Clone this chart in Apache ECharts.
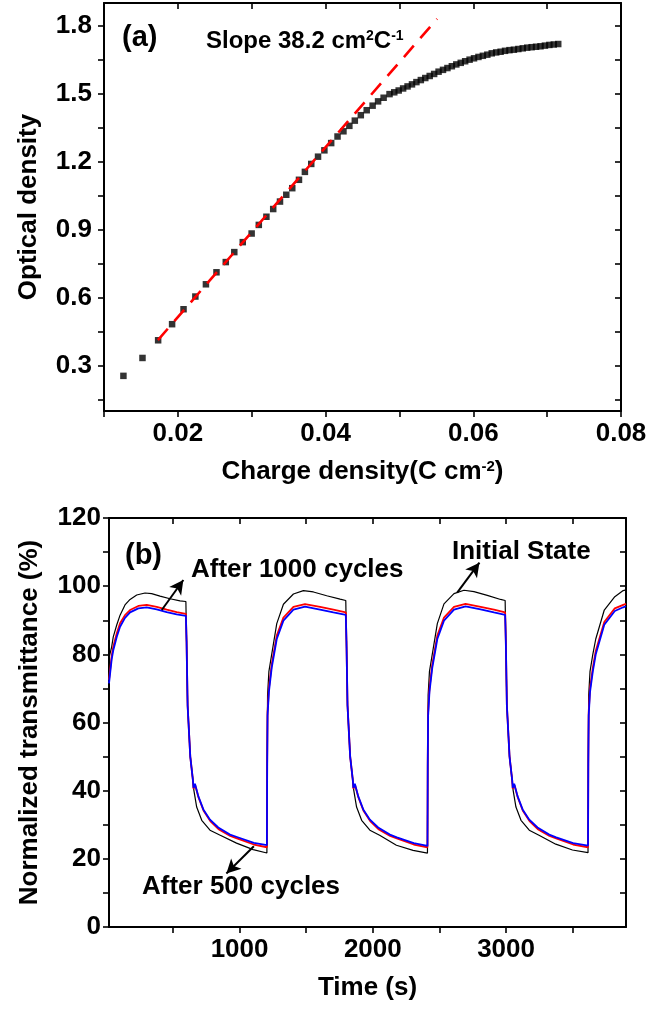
<!DOCTYPE html>
<html><head><meta charset="utf-8">
<script src="https://cdn.jsdelivr.net/npm/echarts@6/dist/echarts.min.js"></script>
<style>html,body{margin:0;padding:0;background:#fff}#c{width:663px;height:1010px}</style>
</head><body><div id="c"></div>
<script>
const FONT = "'Liberation Sans', Arial, Helvetica, sans-serif";

// ---------- panel (a): optical density vs charge density ----------
const chargeDensity = [0.01263,0.01521,0.01733,0.01922,0.02077,0.02237,0.0238,0.02523,0.02649,0.02764,0.02879,0.02999,0.03096,0.03199,0.03291,0.03383,0.03468,0.03549,0.0364,0.0372,0.03806,0.03898,0.03984,0.04076,0.04162,0.04242,0.04322,0.04396,0.04477,0.04557,0.04637,0.04711,0.04786,0.04866,
0.0493,0.0499,0.0505,0.0511,0.0517,0.0523,0.0529,0.0535,0.0541,0.0547,0.0553,0.0559,0.0565,0.0571,0.0577,0.0583,0.0589,0.0595,0.0601,0.0607,0.0613,0.0619,0.0625,0.0631,0.0637,0.0643,0.0649,0.0655,0.0661,0.0667,0.0673,0.0679,0.0685,0.0691,0.0697,0.0703,0.0709,0.0715];
const opticalDensity = [0.255,0.334,0.412,0.483,0.549,0.605,0.659,0.712,0.757,0.801,0.845,0.883,0.921,0.957,0.991,1.024,1.054,1.083,1.12,1.155,1.19,1.222,1.25,1.282,1.311,1.334,1.358,1.381,1.405,1.427,1.447,1.466,1.482,1.498,
1.506,1.514,1.523,1.532,1.541,1.551,1.560,1.569,1.578,1.587,1.597,1.605,1.613,1.621,1.629,1.636,1.643,1.650,1.656,1.662,1.667,1.672,1.678,1.682,1.685,1.689,1.692,1.694,1.697,1.700,1.703,1.705,1.707,1.709,1.712,1.715,1.717,1.719];
const fitLine = [[0.0173, 0.413], [0.0551, 1.83]];
const aXTicks = [0.01,0.02,0.03,0.04,0.05,0.06,0.07,0.08];
const aXLabels = [0.02,0.04,0.06,0.08];
const aYTicks = [0.15,0.3,0.45,0.6,0.75,0.9,1.05,1.2,1.35,1.5,1.65,1.8];
const aYLabels = [0.3,0.6,0.9,1.2,1.5,1.8];

// ---------- panel (b): normalized transmittance vs time ----------
const initialState = [[20,79],[40,82.2],[52,85.1],[78,88.6],[103,91.5],[140,94.5],[178,96.1],[228,97.4],[290,98.0],[340,97.8],[403,97.1],[478,96.3],[553,95.7],[597,95.5],
[602,84],[610,65],[630,50],[650,43],[657,40.1],[678,35.2],[716,31.3],[778,28.4],[851,27.0],[977,24.6],[1102,22.7],[1205,21.7],
[1207,50],[1210,68],[1220,75],[1241,80],[1279,89],[1329,94.7],[1404,97.7],[1479,98.7],[1554,98.3],[1654,97.2],[1754,96.2],[1797,95.8],
[1802,84],[1810,65],[1830,50],[1850,43],[1857,40.1],[1878,35.2],[1916,31.3],[1978,28.4],[2051,26.9],[2177,24.0],[2302,22.5],[2410,21.7],
[2412,50],[2415,68],[2425,75],[2446,80],[2484,89],[2534,94.8],[2609,97.8],[2684,98.8],[2759,98.4],[2859,97.3],[2959,96.1],[2993,95.8],
[2998,84],[3006,65],[3026,50],[3046,43],[3053,40.1],[3074,35.2],[3112,31.3],[3174,28.4],[3247,26.9],[3373,24.3],[3498,22.6],[3615,21.8],
[3617,50],[3620,68],[3630,75],[3651,80],[3673,84.5],[3737,93.0],[3816,96.9],[3879,98.7],[3900,98.9]];
const after500 = [[20,72.5],[40,79.5],[52,82.2],[78,86.1],[103,89.1],[140,91.5],[178,93.0],[240,94.2],[303,94.5],[378,93.9],[453,93.1],[528,92.4],[597,91.9],
[602,84],[610,65],[630,50],[650,43],[654,40.6],[667,41.6],[692,38.0],[730,34.1],[780,31.1],[842,28.7],[930,26.7],[980,26.0],[1107,24.2],[1205,23.4],
[1207,48],[1210,63],[1220,70],[1241,77],[1279,85.5],[1329,90.8],[1404,93.9],[1491,94.7],[1604,93.9],[1704,93.1],[1797,92.3],
[1802,84],[1810,65],[1830,50],[1850,43],[1854,40.6],[1867,41.6],[1892,38.0],[1930,34.1],[1980,31.1],[2042,28.7],[2130,26.7],[2180,26.0],[2307,24.2],[2410,23.4],
[2412,48],[2415,63],[2425,70],[2446,77],[2484,85.5],[2534,90.8],[2609,93.9],[2696,94.8],[2809,93.9],[2909,93.1],[2993,92.3],
[2998,84],[3006,65],[3026,50],[3046,43],[3050,40.6],[3063,41.6],[3088,38.0],[3126,34.1],[3176,31.1],[3238,28.7],[3326,26.7],[3376,26.0],[3503,24.2],[3615,23.4],
[3617,48],[3620,63],[3630,70],[3651,76],[3673,81],[3737,89.5],[3816,93.5],[3879,94.5],[3900,94.8]];
const after1000 = [[20,71.5],[40,78.5],[52,81.2],[78,85.1],[103,88.1],[140,90.7],[178,92.3],[240,93.5],[303,93.8],[378,93.2],[453,92.4],[528,91.7],[597,91.3],
[602,84],[610,65],[630,50],[650,43],[654,40.8],[665,42.0],[690,38.4],[728,34.5],[778,31.5],[840,29.2],[928,27.1],[980,26.4],[1107,24.7],[1205,24.0],
[1207,47],[1210,62],[1220,69],[1241,76],[1279,84.5],[1329,89.9],[1404,93.1],[1491,94.0],[1604,93.1],[1704,92.3],[1797,91.6],
[1802,84],[1810,65],[1830,50],[1850,43],[1854,40.8],[1865,42.0],[1890,38.4],[1928,34.5],[1978,31.5],[2040,29.2],[2128,27.1],[2180,26.3],[2307,24.6],[2410,23.8],
[2412,47],[2415,62],[2425,69],[2446,76],[2484,84.5],[2534,89.9],[2609,93.1],[2696,94.1],[2809,93.2],[2909,92.3],[2993,91.6],
[2998,84],[3006,65],[3026,50],[3046,43],[3050,40.8],[3061,42.0],[3086,38.4],[3124,34.5],[3174,31.5],[3236,29.2],[3324,27.1],[3376,26.3],[3503,24.6],[3615,23.9],
[3617,47],[3620,62],[3630,69],[3651,75],[3673,80],[3737,88.7],[3816,92.7],[3879,93.8],[3900,94.1]];
const bXTicks = [500,1000,1500,2000,2500,3000,3500];
const bXLabels = [1000,2000,3000];
const bYTicks = [0,10,20,30,40,50,60,70,80,90,100,110,120];
const bYLabels = [0,20,40,60,80,100,120];
// arrows: [tail, head] in data coordinates
const arrowsB = [[[416,93.0],[578,101.8]], [[2633,98.1],[2800,106.9]], [[1107,23.7],[901,15.7]]];

const chart = echarts.init(document.getElementById('c'), null, {renderer:'canvas'});
const lineSt = {color:'#000', width:2};
function axis(kind, grid, pos, min, max, ticks, labels, fmt, extra) {
  const outer = (pos === 'bottom' || pos === 'left');
  return Object.assign({
    type:'value', gridIndex:grid, position:pos, min:min, max:max,
    axisLine:{show:true, onZero:false, lineStyle:lineSt},
    axisTick:{show:true, inside:!outer, length:6, lineStyle:{color:'#000', width:1.6}, customValues:ticks},
    axisLabel:{show:outer, customValues:labels, formatter:fmt, color:'#000',
      fontFamily:FONT, fontWeight:'bold', fontSize:26, margin:10},
    splitLine:{show:false}
  }, extra || {});
}
const nameStyle = {fontFamily:FONT, fontWeight:'bold', fontSize:26, color:'#000',
  rich:{s:{fontFamily:FONT, fontWeight:'bold', fontSize:15, verticalAlign:'top', lineHeight:14, color:'#000'}}};

const option = {
  animation:false,
  backgroundColor:'#fff',
  grid:[
    {left:104, top:3, width:517, height:408},
    {left:109, top:518, width:517, height:409}
  ],
  xAxis:[
    axis('x',0,'bottom',0.01,0.08,aXTicks,aXLabels,v=>v.toFixed(2),
      {name:'Charge density(C cm{s|-2})', nameLocation:'middle', nameGap:48, nameTextStyle:nameStyle}),
    axis('x',0,'top',0.01,0.08,aXTicks,aXLabels,v=>v.toFixed(2)),
    axis('x',1,'bottom',20,3900,bXTicks,bXLabels,v=>String(v),
      {name:'Time (s)', nameLocation:'middle', nameGap:48, nameTextStyle:nameStyle}),
    axis('x',1,'top',20,3900,bXTicks,bXLabels,v=>String(v))
  ],
  yAxis:[
    axis('y',0,'left',0.1,1.9,aYTicks,aYLabels,v=>v.toFixed(1),
      {name:'Optical density', nameLocation:'middle', nameGap:62, nameTextStyle:nameStyle,
       axisLabel:{show:true, customValues:aYLabels, formatter:v=>v.toFixed(1), color:'#000', fontFamily:FONT, fontWeight:'bold', fontSize:26, margin:12}}),
    axis('y',0,'right',0.1,1.9,aYTicks,aYLabels,v=>v.toFixed(1)),
    axis('y',1,'left',0,120,bYTicks,bYLabels,v=>String(v),
      {name:'Normalized transmittance (%)', nameLocation:'middle', nameGap:66, nameTextStyle:nameStyle,
       axisLabel:{show:true, customValues:bYLabels, color:'#000', fontFamily:FONT, fontWeight:'bold', fontSize:26, margin:8}}),
    axis('y',1,'right',0,120,bYTicks,bYLabels,v=>String(v))
  ],
  series:[
    {type:'scatter', xAxisIndex:0, yAxisIndex:0, symbol:'rect', symbolSize:6.5,
     itemStyle:{color:'#000'}, data:chargeDensity.map((x,i)=>[x, opticalDensity[i]]), z:3},
    {type:'line', xAxisIndex:0, yAxisIndex:0, showSymbol:false, data:fitLine,
     lineStyle:{color:'#ff0000', width:2.6, type:[15,10]}, z:4},
    {type:'line', xAxisIndex:2, yAxisIndex:2, showSymbol:false, data:initialState,
     lineStyle:{color:'#000', width:1.2}, z:2,
     markLine:{silent:true, symbol:['none','arrow'], symbolSize:[11,14], animation:false,
       label:{show:false}, lineStyle:{color:'#000', width:2, type:'solid'},
       data:arrowsB.map(a=>[{coord:a[0]},{coord:a[1]}])}},
    {type:'line', xAxisIndex:2, yAxisIndex:2, showSymbol:false, data:after500,
     lineStyle:{color:'#ff0000', width:1.8}, z:3},
    {type:'line', xAxisIndex:2, yAxisIndex:2, showSymbol:false, data:after1000,
     lineStyle:{color:'#0000ff', width:1.8}, z:4}
  ],
  graphic:[
    {type:'text', x:122, y:38, style:{text:'(a)', font:`bold 29px ${FONT}`, fill:'#000', verticalAlign:'middle'}},
    {type:'text', x:206, y:41, style:{text:'Slope 38.2 cm{s|2}C{s|-1}', font:`bold 24px ${FONT}`, fill:'#000', verticalAlign:'middle',
      rich:{s:{fontFamily:FONT, fontWeight:'bold', fontSize:14, verticalAlign:'top', lineHeight:12, fill:'#000'}}}},
    {type:'text', x:125, y:556, style:{text:'(b)', font:`bold 29px ${FONT}`, fill:'#000', verticalAlign:'middle'}},
    {type:'text', x:191, y:570, style:{text:'After 1000 cycles', font:`bold 26px ${FONT}`, fill:'#000', verticalAlign:'middle'}},
    {type:'text', x:452, y:552, style:{text:'Initial State', font:`bold 26px ${FONT}`, fill:'#000', verticalAlign:'middle'}},
    {type:'text', x:142, y:887, style:{text:'After 500 cycles', font:`bold 26px ${FONT}`, fill:'#000', verticalAlign:'middle'}}
  ]
};
chart.setOption(option);
</script></body></html>
